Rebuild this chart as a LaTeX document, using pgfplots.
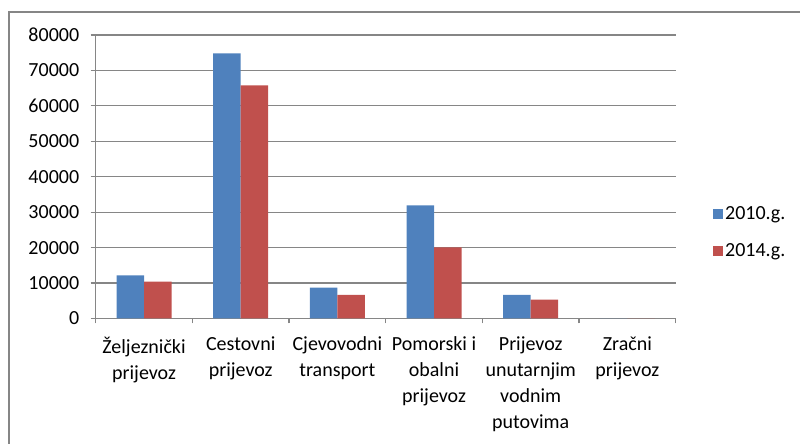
\documentclass[border=0pt]{standalone}
\usepackage{pgfplots}
\pgfplotsset{compat=1.18}
\usepackage{fontspec}
\setmainfont{Carlito}
\definecolor{cblue}{HTML}{4F81BD}
\definecolor{cred}{HTML}{C0504D}
\definecolor{cgray}{HTML}{868686}
\begin{document}
\begin{tikzpicture}[font=\fontsize{20pt}{25.8pt}\selectfont]
\path[use as bounding box] (0pt,0pt) rectangle (800pt,444pt);
\draw[cgray, line width=2pt] (9pt,0pt) -- (9pt,432pt) -- (800pt,432pt);
\begin{axis}[
  at={(95.7pt,125.5pt)}, anchor=south west,
  scale only axis, width=580pt, height=283.5pt,
  xmin=-0.5, xmax=5.5, ymin=0, ymax=80000,
  ytick={0,10000,...,80000},
  xtick={-0.5,0.5,...,5.5}, xticklabels={},
  extra x ticks={0,1,2,3,4,5},
  extra x tick labels={Željeznički\\prijevoz, Cestovni\\prijevoz, Cjevovodni\\transport, Pomorski i\\obalni\\prijevoz, Prijevoz\\unutarnjim\\vodnim\\putovima, Zračni\\prijevoz},
  extra x tick style={major tick length=0pt, grid=none, xticklabel style={align=center, yshift=-15pt, font=\fontsize{20pt}{25.8pt}\selectfont}},
  ymajorgrids, grid style={cgray, line width=1.2pt},
  axis lines*=left,
  axis line style={cgray, line width=1.2pt},
  tick style={cgray, line width=1.2pt},
  major tick length=5pt, tick align=outside,
  ybar=0pt, bar width=27.5pt,
  scaled y ticks=false,
  yticklabel style={/pgf/number format/fixed, /pgf/number format/1000 sep={}, font=\fontsize{20pt}{24pt}\selectfont, xshift=-8pt},
  /pgf/number format/assume math mode=true,
  tick label style={text=black},
  legend style={at={(1.059,0.304)}, anchor=west, draw=none, fill=none, row sep=19pt,
    font=\fontsize{20pt}{24pt}\selectfont},
  legend cell align=left,
]
\addplot[fill=cblue, draw=none, legend image code/.code={\path[fill=cblue] (0pt,-5pt) rectangle (10pt,5pt);}]
  coordinates {(0,12200) (1,74800) (2,8700) (3,31900) (4,6700) (5,0)};
\addplot[fill=cred, draw=none, legend image code/.code={\path[fill=cred] (0pt,-5pt) rectangle (10pt,5pt);}]
  coordinates {(0,10400) (1,65800) (2,6700) (3,20100) (4,5300) (5,0)};
\legend{2010.g., 2014.g.}
\end{axis}
\end{tikzpicture}
\end{document}
